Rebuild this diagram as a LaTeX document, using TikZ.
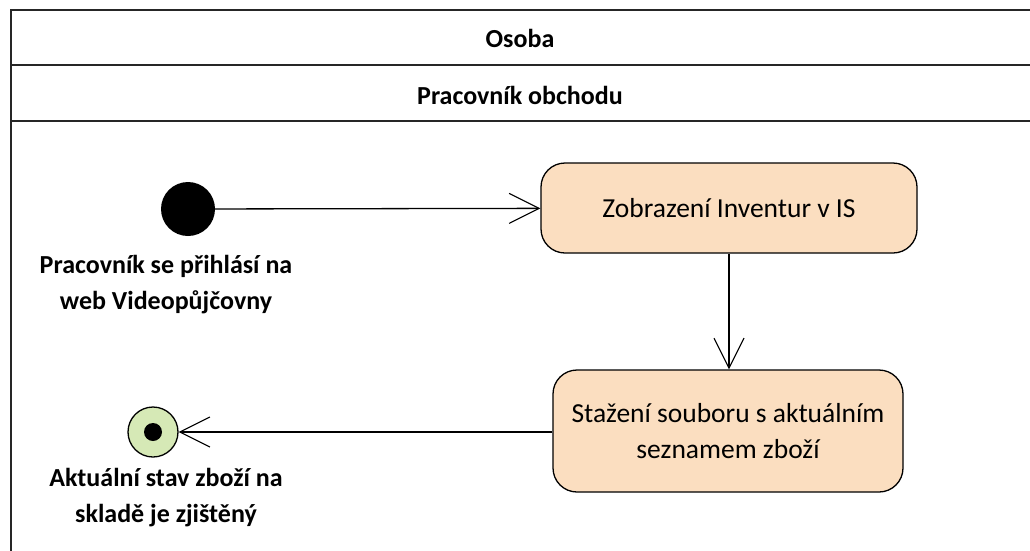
\documentclass[tikz,border=0pt]{standalone}
\usepackage{fontspec}
\setmainfont{Carlito}
\usetikzlibrary{arrows.meta}
\definecolor{actfill}{HTML}{FBDEC0}
\definecolor{endfill}{HTML}{D6E9B6}
\begin{document}
\begin{tikzpicture}[x=1pt,y=-1pt,
  lane/.style={line width=2pt,draw=black!85},
  action/.style={draw=black,line width=1.3pt,fill=actfill,rounded corners=24pt,
    align=center,font=\fontsize{27.5}{36}\selectfont,inner sep=0pt},
  lbl/.style={align=center,font=\bfseries\fontsize{26}{36}\selectfont},
  flow/.style={line width=1.3pt,-{Straight Barb[length=30pt,width=30pt,line width=1.1pt]}}]
  \useasboundingbox (0,0) rectangle (1030,550);
  % swimlane frame
  \draw[lane] (1040,10) -- (11,10) -- (11,560);
  \draw[lane] (11,65) -- (1040,65);
  \draw[lane] (11,121) -- (1040,121);
  \node[lbl] (hdr) at (520,38) {Osoba};
  \node[lbl] (lane) at (520,95) {Pracovník obchodu};
  % nodes
  \node[circle,fill=black,minimum size=54pt,inner sep=0pt] (start) at (188,209) {};
  \node[lbl,anchor=north] (startlbl) at (166,252) {Pracovník se přihlásí na\\web Videopůjčovny};
  \node[action,minimum width=376pt,minimum height=90pt] (show) at (729,208) {Zobrazení Inventur v IS};
  \node[action,minimum width=350pt,minimum height=122pt] (dl) at (728,431) {Stažení souboru s aktuálním\\seznamem zboží};
  \node[circle,draw=black,line width=1.3pt,fill=endfill,minimum size=50pt,inner sep=0pt] (end) at (153,432) {};
  \node[circle,fill=black,minimum size=18pt,inner sep=0pt] (enddot) at (end) {};
  \node[lbl,anchor=north] (endlbl) at (166,465) {Aktuální stav zboží na\\skladě je zjištěný};
  % control flow
  \draw[flow] (start) -- (show);
  \draw[flow] (show) -- (show |- dl.north);
  \draw[flow] (dl.west |- end) -- (end);
\end{tikzpicture}
\end{document}
